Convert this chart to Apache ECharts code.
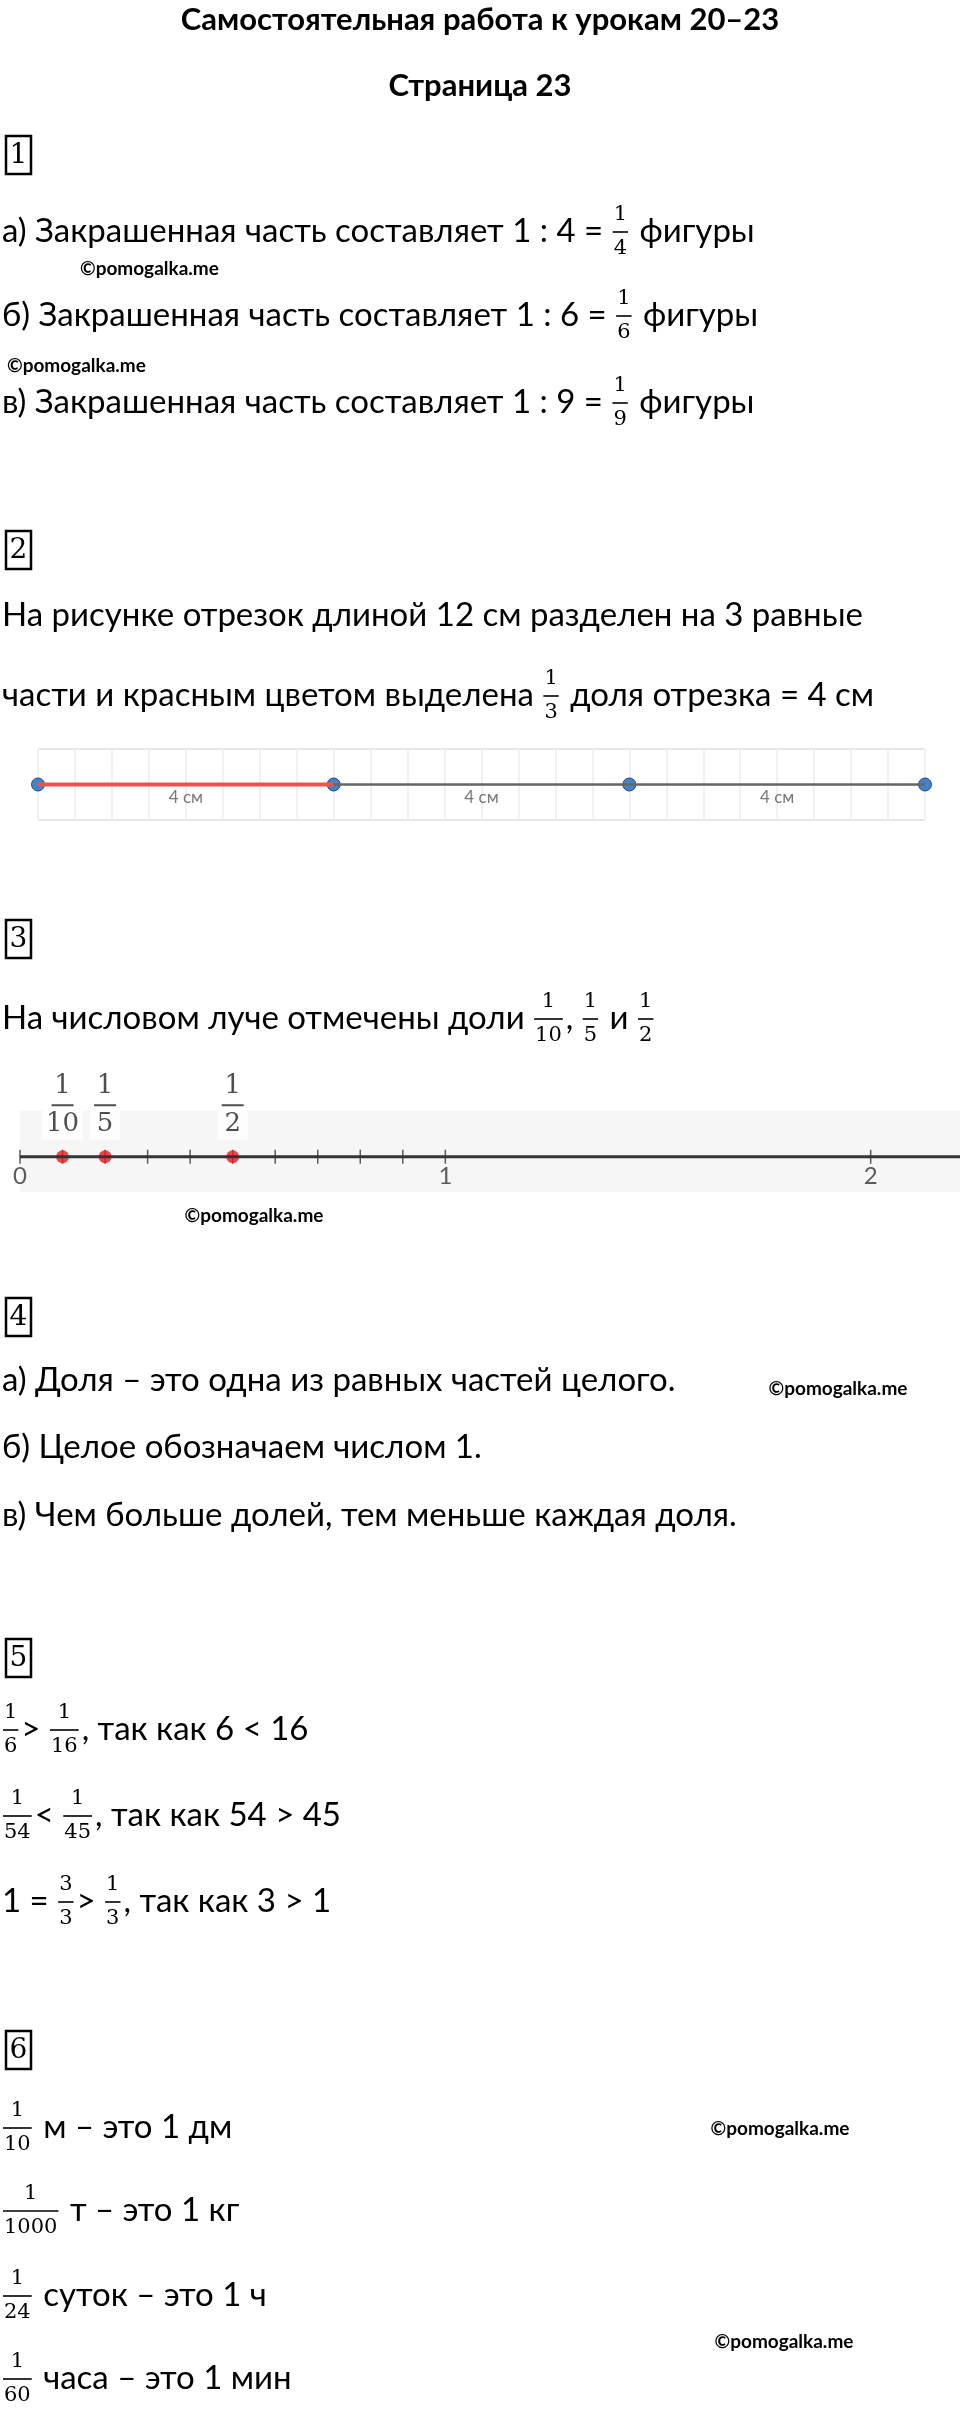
<!DOCTYPE html>
<html><head><meta charset="utf-8">
<script src="https://cdn.jsdelivr.net/npm/echarts@6/dist/echarts.min.js"></script>
<style>html,body{margin:0;padding:0;background:#fff}#c{width:960px;height:2412px}</style>
</head><body><div id="c"></div>
<script>
// ---- data ----
const segPoints = [0, 4, 8, 12];
const segRed = [0, 4];
const segLabels = [[2, '4 см'], [6, '4 см'], [10, '4 см']];
const rayTicks = [0,0.1,0.2,0.3,0.4,0.5,0.6,0.7,0.8,0.9,1,2];
const rayNumbers = [0, 1, 2];
const rayMarks = [0.1, 0.2, 0.5];
const rayMarkNum = ['1','1','1'];
const rayMarkDen = ['10','5','2'];

const FONT = 'Lato, "Open Sans", sans-serif';
const FFONT = '"DejaVu Serif", "Liberation Serif", serif';
const BS = 33;
const cv = document.createElement('canvas').getContext('2d');
function mw(t, size, fam, weight){ cv.font = (weight||'normal')+' '+size+'px '+fam; return cv.measureText(t).width; }

const G = [];
function txt(x,y,t,opt){ opt=opt||{}; G.push({type:'text',x:x,y:y,style:{text:t,fill:opt.fill||'#000',font:(opt.weight||'normal')+' '+(opt.size||BS)+'px '+(opt.fam||FONT),textAlign:opt.align||'left',textVerticalAlign:'middle'}}); }
function frac(x,y,n,d,size){
  size=size||21;
  const w=Math.max(mw(n,size,FFONT),mw(d,size,FFONT))+4;
  txt(x+w/2,y-16,n,{size:size,fam:FFONT,align:'center'});
  txt(x+w/2,y+18,d,{size:size,fam:FFONT,align:'center'});
  G.push({type:'line',shape:{x1:x+1,y1:y+1,x2:x+w-1,y2:y+1},style:{stroke:'#000',lineWidth:1.6}});
  return w;
}
function row(x,y,parts,size){
  size=size||BS;
  parts.forEach(p=>{
    if(typeof p==='string'){ txt(x,y,p,{size:size}); x+=mw(p,size,FONT); }
    else { x+=frac(x,y,p[0],p[1])+2; }
  });
}
function box(y,n){
  G.push({type:'rect',shape:{x:6,y:y,width:25,height:38},style:{fill:'none',stroke:'#000',lineWidth:2.5}});
  txt(18.5,y+20,n,{size:28,fam:FFONT,align:'center'});
}
function wm(x,y,align){ txt(x,y,'©pomogalka.me',{size:19,weight:'bold',align:align||'left'}); }

txt(480,20,'Самостоятельная работа к урокам 20–23',{size:31,weight:'bold',align:'center'});
txt(480,86,'Страница 23',{size:31,weight:'bold',align:'center'});
box(136,'1');
row(2,231,['а) Закрашенная часть составляет 1 : 4 = ',['1','4'],' фигуры']);
wm(80,269);
row(2,315,['б) Закрашенная часть составляет 1 : 6 = ',['1','6'],' фигуры']);
wm(7,366);
row(2,402,['в) Закрашенная часть составляет 1 : 9 = ',['1','9'],' фигуры']);
box(531,'2');
row(2,615,['На рисунке отрезок длиной 12 см разделен на 3 равные']);
row(2,695,['части и красным цветом выделена ',['1','3'],' доля отрезка = 4 см']);
box(920,'3');
row(2,1018,['На числовом луче отмечены доли ',['1','10'],', ',['1','5'],' и ',['1','2']]);
wm(254,1216,'center');
box(1298,'4');
row(2,1380,['а) Доля – это одна из равных частей целого.']);
wm(838,1389,'center');
row(2,1447,['б) Целое обозначаем числом 1.']);
row(2,1515,['в) Чем больше долей, тем меньше каждая доля.']);
box(1639,'5');
row(2,1729,[['1','6'],'> ',['1','16'],', так как 6 < 16']);
row(2,1815,[['1','54'],'< ',['1','45'],', так как 54 > 45']);
row(2,1901,['1 = ',['3','3'],'> ',['1','3'],', так как 3 > 1']);
box(2031,'6');
row(2,2127,[['1','10'],' м – это 1 дм']);
wm(780,2129,'center');
row(2,2210,[['1','1000'],' т – это 1 кг']);
row(2,2295,[['1','24'],' суток – это 1 ч']);
wm(784,2342,'center');
row(2,2378,[['1','60'],' часа – это 1 мин']);

const chart = echarts.init(document.getElementById('c'),null,{renderer:'canvas'});
chart.setOption({
  animation:false,
  grid:[
    {left:38,right:35,top:749,height:71,show:true,backgroundColor:'#fff',borderWidth:0},
    {left:20,right:0,top:1110,height:82,show:true,backgroundColor:'#f6f6f6',borderWidth:0}
  ],
  xAxis:[
    {gridIndex:0,type:'value',min:0,max:12,interval:0.5,axisLine:{show:false},axisTick:{show:false},axisLabel:{show:false},splitLine:{lineStyle:{color:'#ececec',width:1.5}}},
    {gridIndex:1,type:'value',min:0,max:2.21,axisLine:{show:false},axisTick:{show:false},axisLabel:{show:false},splitLine:{show:false}}
  ],
  yAxis:[
    {gridIndex:0,type:'value',min:0,max:2,interval:1,axisLine:{show:false},axisTick:{show:false},axisLabel:{show:false},splitLine:{show:true,lineStyle:{color:'#e6e6e6',width:2}}},
    {gridIndex:1,type:'value',min:0,max:1,axisLine:{show:false},axisTick:{show:false},axisLabel:{show:false},splitLine:{show:false}}
  ],
  series:[
    {type:'line',xAxisIndex:0,yAxisIndex:0,data:[[segPoints[0],1],[segPoints[segPoints.length-1],1]],symbol:'none',lineStyle:{color:'#666',width:2.5}},
    {type:'line',xAxisIndex:0,yAxisIndex:0,data:segRed.map(v=>[v,1]),symbol:'none',lineStyle:{color:'#f25050',width:4}},
    {type:'scatter',xAxisIndex:0,yAxisIndex:0,data:segPoints.map(v=>[v,1]),symbolSize:13,itemStyle:{color:'#1565c0',borderColor:'#0b2a55',borderWidth:1}},
    {type:'scatter',xAxisIndex:0,yAxisIndex:0,data:segLabels.map(l=>({value:[l[0],0.62],name:l[1]})),symbolSize:0,label:{show:true,formatter:p=>p.name,color:'#555',fontSize:17,fontFamily:FONT}},
    {type:'line',xAxisIndex:1,yAxisIndex:1,data:[[0,0.43],[2.21,0.43]],symbol:'none',lineStyle:{color:'#333',width:3}},
    {type:'scatter',xAxisIndex:1,yAxisIndex:1,data:rayTicks.map(v=>[v,0.43]),symbol:'rect',symbolSize:[1.5,14],itemStyle:{color:'#333'}},
    {type:'scatter',xAxisIndex:1,yAxisIndex:1,data:rayNumbers.map(v=>[v,0.43]),symbolSize:0,label:{show:true,position:'bottom',distance:8,formatter:p=>String(p.value[0]),color:'#333',fontSize:24,fontFamily:FONT}},
    {type:'scatter',xAxisIndex:1,yAxisIndex:1,data:rayMarks.map((v,i)=>({value:[v,0.43],n:rayMarkNum[i],d:rayMarkDen[i]})),symbolSize:13,itemStyle:{color:'#f01818'},
      label:{show:true,position:'top',distance:10,formatter:p=>'{n|'+p.data.n+'}\n{l|}\n{d|'+p.data.d+'}',backgroundColor:'#fff',padding:[0,4],
        rich:{n:{fontSize:26,fontFamily:FFONT,color:'#222',align:'center',lineHeight:32},l:{width:22,height:2,backgroundColor:'#222',lineHeight:6,align:'center'},d:{fontSize:26,fontFamily:FFONT,color:'#222',align:'center',lineHeight:32}}}}
  ],
  graphic:G
});
</script></body></html>
